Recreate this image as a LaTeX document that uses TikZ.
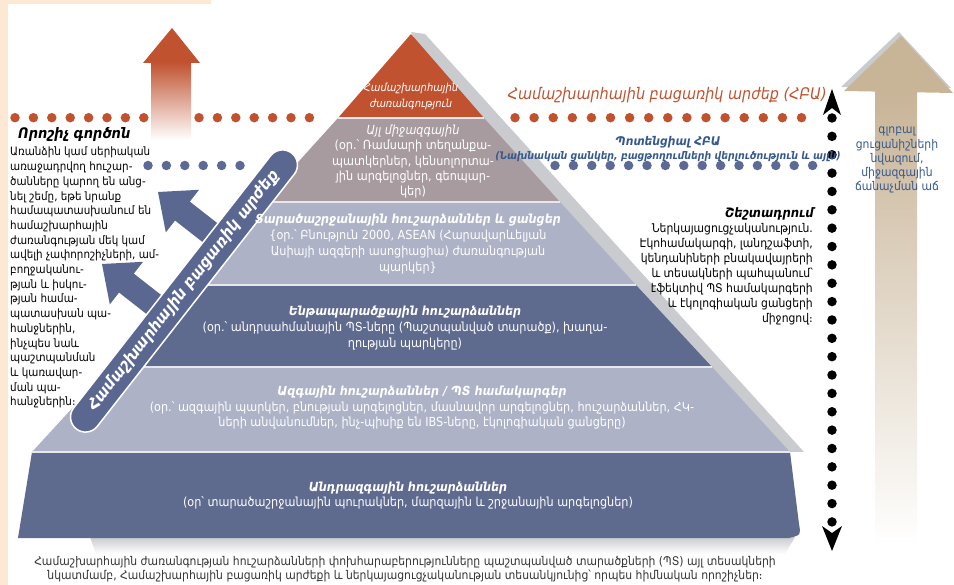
\documentclass[tikz,border=0pt]{standalone}
\usepackage{fontspec}
\setmainfont{DejaVu Sans}[FakeStretch=0.9]
\usetikzlibrary{positioning}

\definecolor{pyrred}{HTML}{C0522F}
\definecolor{pyrmauve}{HTML}{A89B9F}
\definecolor{pyrlight}{HTML}{ADB2C6}
\definecolor{pyrdark}{HTML}{5F6A8F}
\definecolor{bandblue}{HTML}{5A6790}
\definecolor{dotblue}{HTML}{5D6A96}
\definecolor{txtblue}{HTML}{35598F}
\definecolor{tanarrow}{HTML}{C8B497}
\definecolor{beige}{HTML}{FCE8D3}
\definecolor{shadowgray}{HTML}{CACBCE}

\tikzset{
  dotrow/.style={line width=9.5pt,line cap=round,dash pattern=on 0pt off #1},
  dotrow/.default=18.4pt,
  sepline/.style={draw=white!70!pyrlight,line width=1.2pt},
  lvltext/.style={text=white,align=center,inner sep=0pt,anchor=north},
  bodytext/.style={inner sep=0pt,font=\fontsize{11.5}{14.7}\selectfont},
  titletext/.style={inner sep=0pt,font=\fontsize{14.5}{16}\selectfont\bfseries\itshape},
  band/.style={rotate=52,fill=bandblue,draw=white,line width=1.5pt,rounded corners=15pt,
    minimum width=350pt,minimum height=30pt,inner sep=0pt,text=white,
    font=\fontsize{16}{16}\selectfont\bfseries\itshape}
}

\begin{document}
\begin{tikzpicture}[x=1pt,y=-1pt]
\useasboundingbox (0,0) rectangle (954,585);
\fill[beige] (0,0) rectangle (8,585);
\fill[beige] (0,0) rectangle (211,4);

\coordinate (redL1) at (15,117.7);
\coordinate (redL2) at (327,117.7);
\coordinate (redR1) at (515,117.7);
\coordinate (redR2) at (808,117.7);
\coordinate (blueL1) at (148,165.5);
\coordinate (blueL2) at (240,165.5);
\coordinate (blueR1) at (555,165.5);
\coordinate (blueR2) at (830,165.5);
\draw[dotrow,pyrred] (redL1) -- (redL2);
\draw[dotrow=19.1pt,pyrred] (redR1) -- (redR2);
\draw[dotrow,dotblue] (blueL1) -- (blueL2);
\draw[dotrow,dotblue] (blueR1) -- (blueR2);

\fill[shadowgray] (411,32) -- (425,34) -- (804,452) -- (640,452) -- cycle;
\fill[pyrred] (411,34) -- (484,118) -- (338,118) -- cycle;
\fill[pyrmauve] (338,118) -- (484,118) -- (560,202) -- (262,202) -- cycle;
\fill[pyrlight] (262,202) -- (560,202) -- (636,285) -- (186,285) -- cycle;
\fill[pyrdark] (186,285) -- (636,285) -- (712,367) -- (110,367) -- cycle;
\fill[pyrlight] (110,367) -- (712,367) -- (790,452) -- (32,452) -- cycle;
\shade[top color=shadowgray,bottom color=white] (90,537) -- (795,537) -- (785,554) -- (96,554) -- cycle;
\fill[pyrdark] (32,452) -- (790,452) -- (799,524) .. controls (801,535) .. (789,538) -- (18,538) -- cycle;
\draw[sepline] (338,118) -- (484,118);
\draw[sepline] (262,202) -- (560,202);
\draw[sepline] (186,285) -- (636,285);
\draw[sepline] (110,367) -- (712,367);
\draw[sepline] (32,452) -- (790,452);

\begin{scope}[shift={(158,192)},rotate=-38]
\fill[bandblue] (0,0) -- (31,27) -- (31,12) -- (87,12) -- (87,-12) -- (31,-12) -- (31,-27) -- cycle;
\end{scope}
\begin{scope}[shift={(102,264)},rotate=-38]
\fill[bandblue] (0,0) -- (31,27) -- (31,12) -- (89,12) -- (89,-12) -- (31,-12) -- (31,-27) -- cycle;
\end{scope}
\node[band] (wob) at (184,291) {Համաշխարհային բացառիկ արժեք};

\shade[top color=pyrred,bottom color=white] (151,62) rectangle (191,140);
\fill[pyrred] (143,63) -- (172,28) -- (200,63) -- cycle;

\shade[top color=tanarrow,bottom color=white] (875,90) rectangle (917,546);
\fill[shadowgray] (841,87) -- (899,32) -- (951,88) -- cycle;
\fill[tanarrow] (844,91) -- (901,36) -- (953,93) -- cycle;

\coordinate (scaletop) at (832,89);
\coordinate (scalebot) at (832,551);
\draw[dotrow=18.36pt,black] (832,118) -- (832,523);
\fill[black] (scaletop) -- (841,115) -- (832,108) -- (823,115) -- cycle;
\fill[black] (scalebot) -- (842,526) -- (832,533) -- (822,526) -- cycle;

\node[lvltext,font=\fontsize{11}{15.5}\selectfont\itshape] (lvlworld) at (411,83)
  {Համաշխարհային\\ժառանգություն};
\node[lvltext,font=\fontsize{12.5}{15.25}\selectfont] (lvlintl) at (413,125)
  {{\itshape Այլ միջազգային}\\(օր.՝ Ռամսարի տեղանքա-\\պատկերներ, կենսոլորտա-\\յին արգելոցներ, գեոպար-\\կեր)};
\node[lvltext,font=\fontsize{12.5}{16}\selectfont] (lvlregion) at (408,214)
  {{\bfseries\itshape Տարածաշրջանային հուշարձաններ և ցանցեր}\\\{օր.՝ Բնություն 2000, ASEAN (Հարավարևելյան\\Ասիայի ազգերի ասոցիացիա) ժառանգության\\պարկեր\}};
\node[lvltext,font=\fontsize{12.5}{16}\selectfont] (lvlsub) at (405,306)
  {{\bfseries\itshape Ենթապարածքային հուշարձաններ}\\(օր.՝ անդրսահմանային ՊՏ-ները (Պաշտպանված տարածք), խաղա-\\ղության պարկերը)};
\node[lvltext,font=\fontsize{12.5}{15.5}\selectfont] (lvlnat) at (422,386)
  {{\bfseries\itshape Ազգային հուշարձաններ / ՊՏ համակարգեր}\\(օր.՝ ազգային պարկեր, բնության արգելոցներ, մասնավոր արգելոցներ, հուշարձաններ, ՀԿ-\\ների անվանումներ, ինչ-պիսիք են IBS-ները, էկոլոգիական ցանցերը)};
\node[lvltext,font=\fontsize{12.5}{15}\selectfont] (lvltrans) at (408,482)
  {{\bfseries\itshape Անդրազգային հուշարձաններ}\\(օր՝ տարածաշրջանային պուրակներ, մարզային և շրջանային արգելոցներ)};

\node[inner sep=0pt,anchor=base east,text=pyrred,font=\fontsize{16}{16}\selectfont\itshape] (ouv) at (827,100)
  {Համաշխարհային բացառիկ արժեք (ՀԲԱ)};
\node[inner sep=0pt,anchor=north,text=txtblue,align=center,font=\fontsize{10.5}{14}\selectfont\bfseries\itshape] (potential) at (668,136)
  {{\fontsize{12}{14}\selectfont Պոտենցիալ ՀԲԱ}\\(Նախնական ցանկեր, բացթողումների վերլուծություն և այլն)};

\node[titletext,anchor=north west] (crit) at (18,127) {Որոշիչ գործոն};
\node[bodytext,anchor=north west,align=left] (critbody) at (10,147)
  {Առանձին կամ սերիական\\առաջադրվող հուշար-\\ծանները կարող են անց-\\նել շեմը, եթե նրանք\\համապատասխանում են\\համաշխարհային\\ժառանգության մեկ կամ\\ավելի չափորոշիչների, ամ-\\բողջականու-\\թյան և իսկու-\\թյան համա-\\պատասխան պա-\\հանջներին,\\ինչպես նաև\\պաշտպանման\\և կառավար-\\ման պա-\\հանջներին։};

\node[titletext,anchor=north east,font=\fontsize{13}{15}\selectfont\bfseries\itshape] (focus) at (814,207) {Շեշտադրում};
\node[bodytext,anchor=north east,align=right,font=\fontsize{12}{15}\selectfont] (focusbody) at (813,223)
  {Ներկայացուցչականություն.\\Էկոհամակարգի, լանդշաֆտի,\\կենդանիների բնակավայրերի\\և տեսակների պահպանում՝\\էֆեկտիվ ՊՏ համակարգերի\\և էկոլոգիական ցանցերի\\միջոցով։};

\node[bodytext,anchor=north,align=center,text=txtblue,font=\fontsize{12}{14.2}\selectfont] (trend) at (897,127)
  {գլոբալ\\ցուցանիշների\\նվազում,\\միջազգային\\ճանաչման աճ};

\node[bodytext,anchor=north,align=center,text=black!80,font=\fontsize{12}{14}\selectfont] (caption) at (405,556)
  {Համաշխարհային ժառանգության հուշարձանների փոխհարաբերությունները պաշտպանված տարածքների (ՊՏ) այլ տեսակների\\նկատմամբ, Համաշխարհային բացառիկ արժեքի և ներկայացուցչականության տեսանկյունից՝ որպես հիմնական որոշիչներ։};
\end{tikzpicture}
\end{document}
